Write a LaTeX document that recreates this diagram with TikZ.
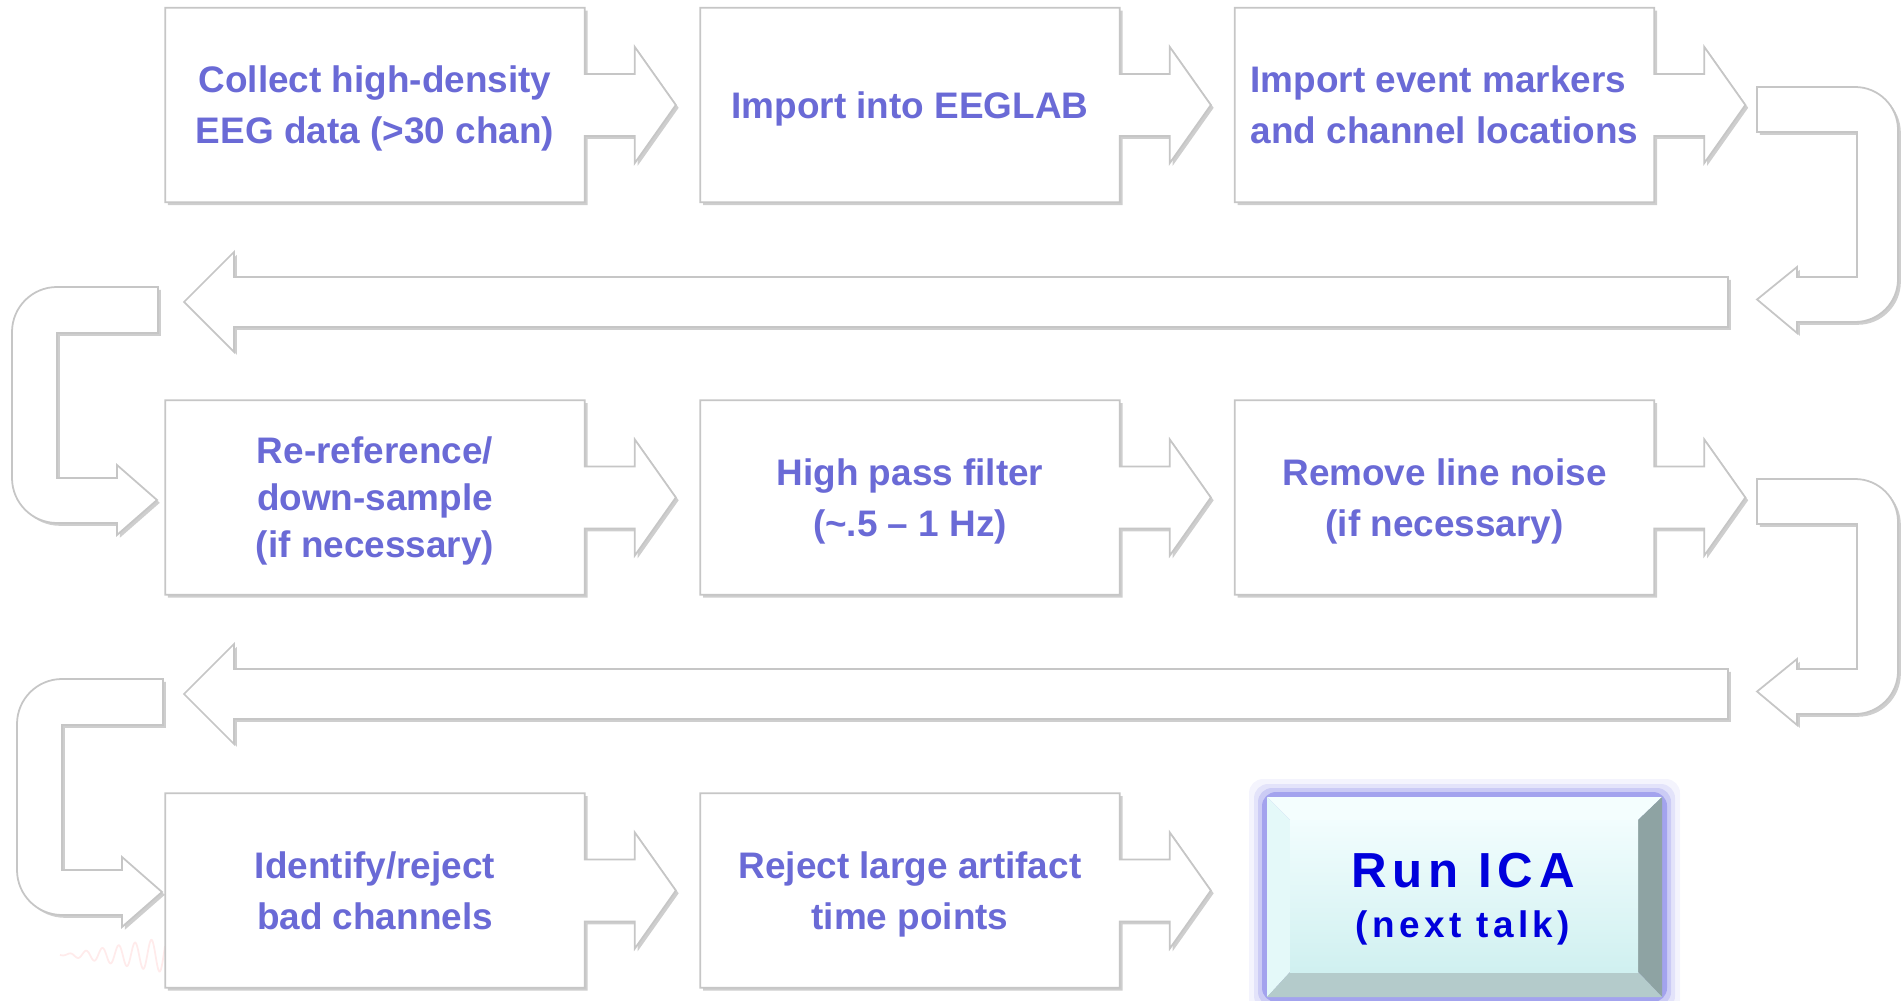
\documentclass[tikz,border=0pt]{standalone}
\usepackage{fontspec}
\setmainfont{Liberation Sans}
\newfontfamily\icafont[LetterSpace=12]{Liberation Sans}
\usetikzlibrary{calc,shadows,backgrounds}
\definecolor{steptext}{RGB}{106,106,214}
\definecolor{icablue}{RGB}{0,0,220}
\definecolor{icaglow}{RGB}{150,150,235}
\definecolor{bevtop}{RGB}{244,254,254}
\definecolor{bevleft}{RGB}{228,249,249}
\definecolor{bevright}{RGB}{142,163,163}
\definecolor{bevbottom}{RGB}{180,203,203}
\definecolor{facetop}{RGB}{242,253,254}
\definecolor{facebot}{RGB}{208,240,240}
\tikzset{
  stepbox/.style={minimum width=4.18cm, minimum height=1.93cm, inner sep=0pt, text depth=-0.6pt,
    align=center, text=steptext, font=\bfseries\fontsize{10.5}{14.5}\selectfont},
  flowline/.style={fill=white, draw=gray!45, line width=0.5pt,
    drop shadow={shadow xshift=0.8pt, shadow yshift=-0.8pt, fill=gray!70, opacity=0.55}},
  icatext/.style={text=icablue, inner sep=0pt, anchor=base}
}
\begin{document}
\begin{tikzpicture}[x=0.01cm, y=0.01cm]
  \useasboundingbox (0,0) rectangle (1901,1000);
  % steps
  \node[stepbox] (b1) at (375,895) {Collect high-density\\EEG data (>30 chan)};
  \node[stepbox] (b2) at (910,895) {Import into EEGLAB};
  \node[stepbox, align=left] (b3) at (1444.5,895) {Import event markers\\and channel locations};
  \node[stepbox, font=\bfseries\fontsize{10.5}{13.4}\selectfont] (b4) at (375,502.5) {Re-reference/\\down-sample\\(if necessary)};
  \node[stepbox] (b5) at (910,502.5) {High pass filter\\(\textasciitilde.5 -- 1 Hz)};
  \node[stepbox] (b6) at (1444.5,502.5) {Remove line noise\\(if necessary)};
  \node[stepbox] (b7) at (375,109.5) {Identify/reject\\bad channels};
  \node[stepbox] (b8) at (910,109.5) {Reject large artifact\\time points};
  \node[icatext, font=\icafont\bfseries\fontsize{14}{16}\selectfont] (ica) at (1463,112.5) {Run ICA};
  \node[icatext, font=\icafont\bfseries\fontsize{10.5}{12}\selectfont] (icanote) at (1463,63) {(next talk)};
  \begin{scope}[on background layer]
    \draw[red!8, line width=0.5pt] plot[domain=60:165, samples=150, smooth] (\x, {45+(\x-60)/6*sin(22*\x)});
    \foreach \b in {b1,b2,b3,b4,b5,b6,b7,b8}
      \draw[flowline] (\b.north west) -- (\b.north east) -- ($(\b.east)+(0,31)$) -- ++(50,0) -- ++(0,27)
        -- ($(\b.east)+(91,0)$) -- ($(\b.east)+(50,-58)$) -- ++(0,27) -- ($(\b.east)+(0,-31)$)
        -- (\b.south east) -- (\b.south west) -- cycle;
    % turns between rows
    \foreach \dy/\dx in {0/0,392/5}{
      \begin{scope}[shift={(0,-\dy)}]
        \draw[flowline] (1757,913) -- (1855,913) arc[start angle=90, end angle=0, radius=43]
          -- (1898,721) arc[start angle=0, end angle=-90, radius=43] -- (1797,678) -- (1797,667)
          -- (1757,700.5) -- (1797,733) -- (1797,723) -- (1857,723) -- (1857,868) -- (1757,868) -- cycle;
        \draw[flowline] (1728,723) -- (234,723) -- (234,748) -- (184,698) -- (234,648) -- (234,673)
          -- (1728,673) -- cycle;
        \draw[flowline] (158+\dx,713) -- (57+\dx,713) arc[start angle=90, end angle=180, radius=45]
          -- (12+\dx,522) arc[start angle=180, end angle=270, radius=45] -- (117+\dx,477) -- (117+\dx,465)
          -- (157+\dx,500) -- (117+\dx,535) -- (117+\dx,522) -- (57+\dx,522) -- (57+\dx,667)
          -- (158+\dx,667) -- cycle;
      \end{scope}}
    % run ica button
    \foreach \g/\o in {18/0.1,13/0.18,9/0.32,5/0.75}
      \fill[icaglow, opacity=\o, rounded corners=4pt] (1267-\g,3-\g) rectangle (1662+\g,203+\g);
    \fill[bevtop] (1267,203) -- (1662,203) -- (1638,180) -- (1290,180) -- cycle;
    \fill[bevleft] (1267,3) -- (1267,203) -- (1290,180) -- (1290,28) -- cycle;
    \fill[bevright] (1662,203) -- (1662,3) -- (1638,28) -- (1638,180) -- cycle;
    \fill[bevbottom] (1267,3) -- (1662,3) -- (1638,28) -- (1290,28) -- cycle;
    \shade[top color=facetop, bottom color=facebot] (1290,28) rectangle (1638,180);
  \end{scope}
\end{tikzpicture}
\end{document}
